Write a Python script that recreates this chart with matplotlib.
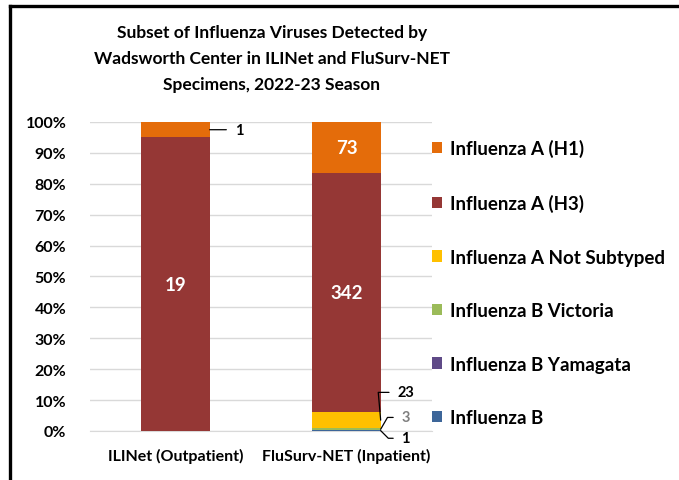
import matplotlib.pyplot as plt
from matplotlib.patches import Patch
from matplotlib.lines import Line2D

# data
categories = ['ILINet (Outpatient)', 'FluSurv-NET (Inpatient)']
series = ['Influenza B', 'Influenza B Yamagata', 'Influenza B Victoria',
          'Influenza A Not Subtyped', 'Influenza A (H3)', 'Influenza A (H1)']
counts = {
    'Influenza B': [0, 1],
    'Influenza B Yamagata': [0, 0],
    'Influenza B Victoria': [0, 3],
    'Influenza A Not Subtyped': [0, 23],
    'Influenza A (H3)': [19, 342],
    'Influenza A (H1)': [1, 73],
}
colors = {
    'Influenza B': '#3d6699',
    'Influenza B Yamagata': '#5f4a87',
    'Influenza B Victoria': '#9bbb59',
    'Influenza A Not Subtyped': '#ffc000',
    'Influenza A (H3)': '#953735',
    'Influenza A (H1)': '#e46c0a',
}

plt.rcParams['font.family'] = ['Lato', 'DejaVu Sans']
plt.rcParams['font.weight'] = 'bold'

fig = plt.figure(figsize=(6.79, 4.81), dpi=100)
ax = fig.add_axes([0.1325, 0.1019, 0.5037, 0.6424])

totals = [sum(counts[s][i] for s in series) for i in range(len(categories))]
x = list(range(len(categories)))
w = 0.4
bottoms = [0.0] * len(categories)
segs = {}
for s in series:
    frac = [counts[s][i] / totals[i] for i in x]
    ax.bar(x, frac, w, bottom=bottoms, color=colors[s], zorder=3)
    segs[s] = [(bottoms[i], bottoms[i] + frac[i]) for i in x]
    bottoms = [bottoms[i] + frac[i] for i in x]

# labels inside bars
for s, i in [('Influenza A (H3)', 0), ('Influenza A (H3)', 1), ('Influenza A (H1)', 1)]:
    lo, hi = segs[s][i]
    ax.text(i, (lo + hi) / 2, str(counts[s][i]), ha='center', va='center',
            color='white', fontsize=13.5, fontweight='bold', zorder=4)

# labels outside with leader lines
def leader(i, s, dx, dy, col='black', cs='arc3'):
    lo, hi = segs[s][i]
    ax.annotate(str(counts[s][i]), xy=(i + w / 2, (lo + hi) / 2),
                xytext=(dx, dy), textcoords='offset points', ha='left', va='center',
                fontsize=10.5, fontweight='bold', color=col, annotation_clip=False,
                arrowprops=dict(arrowstyle='-', color='black', lw=0.9,
                                relpos=(0, 0.5), shrinkA=4, shrinkB=0,
                                connectionstyle=cs))

leader(0, 'Influenza A (H1)', 18, 0)
leader(1, 'Influenza A Not Subtyped', 12, 20, cs='angle,angleA=0,angleB=95,rad=0')
leader(1, 'Influenza B Victoria', 15, 8.5, col='#7f7f7f', cs='angle,angleA=0,angleB=60,rad=0')
leader(1, 'Influenza B', 15, -5.5, cs='angle,angleA=0,angleB=-45,rad=0')

ax.set_xlim(-0.5, 1.5)
ax.set_ylim(0, 1)
ax.set_yticks([i / 10 for i in range(11)])
ax.set_yticklabels(['%d%%' % (i * 10) for i in range(11)])
ax.set_xticks(x)
ax.set_xticklabels(categories)
ax.tick_params(axis='both', length=0, labelsize=11.5)
ax.tick_params(axis='x', pad=12)
ax.tick_params(axis='y', pad=17)
ax.grid(axis='y', color='#d9d9d9', lw=1, zorder=0)
for sp in ['top', 'right', 'left']:
    ax.spines[sp].set_visible(False)
ax.spines['bottom'].set_color('#d9d9d9')

handles = [Patch(facecolor=colors[s], edgecolor='none') for s in reversed(series)]
fig.legend(handles, list(reversed(series)), loc='upper left',
           bbox_to_anchor=(0.625, 0.724), frameon=False, fontsize=13.5,
           handlelength=0.55, handleheight=0.55, handletextpad=0.4,
           labelspacing=1.95, borderaxespad=0)

fig.text(0.4, 0.948, 'Subset of Influenza Viruses Detected by\nWadsworth Center in ILINet and FluSurv-NET\nSpecimens, 2022-23 Season',
         ha='center', va='top', fontsize=12.5, fontweight='bold', linespacing=1.75)

# outer frame (left and top edges)
fig.add_artist(Line2D([0.0147, 0.0147], [0, 0.986], color='black', lw=2.4, transform=fig.transFigure))
fig.add_artist(Line2D([0.0147, 1.0], [0.986, 0.986], color='black', lw=2.4, transform=fig.transFigure))

fig.savefig('out.png', dpi=100)
